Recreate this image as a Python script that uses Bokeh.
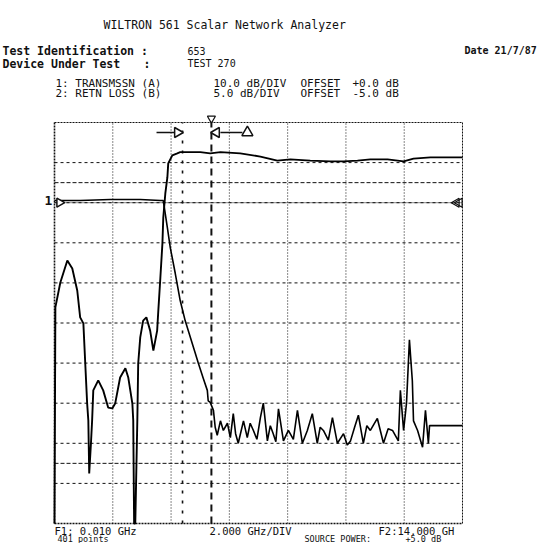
import numpy as np
from bokeh.plotting import figure
from bokeh.models import Range1d, Label
from bokeh.embed import file_html
from bokeh.resources import INLINE

# ---------------- data ----------------
FREQ_START_GHZ = 0.010
FREQ_STOP_GHZ = 14.000
N_XDIV = 7
CH1_TOP_DB, CH1_DB_PER_DIV = 20.0, 10.0   # TRANSMSSN (A)
CH2_TOP_DB, CH2_DB_PER_DIV = 10.0, 5.0    # RETN LOSS (B)
N_YDIV = 10
REF_LINE_DB = 0.0
LIMIT_UPPER_DB = 5.0
LIMIT_LOWER_DB = -65.0
CURSOR_REF_GHZ = 4.40
CURSOR_GHZ = 5.39

trans_freq = [0.01, 0.04, 0.21, 0.45, 0.62, 0.79, 0.89, 1.00, 1.06, 1.13,
              1.17, 1.20, 1.26, 1.30, 1.34, 1.51, 1.68, 1.85, 1.99, 2.09,
              2.26, 2.44, 2.54, 2.68, 2.71, 2.74, 2.78, 2.85, 2.88, 2.95,
              3.05, 3.16, 3.29, 3.40, 3.53, 3.57, 3.64, 3.71, 3.74, 3.81,
              3.88, 3.91, 4.05, 4.22, 4.32, 5.01, 5.35, 5.70, 6.38, 7.07,
              7.65, 8.10, 8.78, 9.47, 9.92, 10.40, 10.84, 11.43, 11.98, 12.32,
              12.90, 13.59, 14.00]
trans_db = [-80, -26.1, -19.9, -14.4, -16.4, -21.9, -28.6, -30.1, -39.4, -50.1,
            -54.3, -67.5, -60.0, -54.3, -46.8, -44.3, -46.8, -51.1, -51.3, -50.1,
            -43.6, -41.3, -43.6, -50.1, -54.3, -80, -80, -54.3, -40.1, -33.6,
            -29.4, -28.6, -31.9, -36.9, -31.9, -26.9, -18.7, -10.2, -3.7, 2.3,
            6.3, 9.8, 11.8, 12.3, 12.6, 12.6, 12.3, 12.6, 12.3, 11.5,
            10.5, 10.8, 10.5, 10.3, 10.3, 10.5, 10.8, 10.8, 10.3, 11.0,
            11.3, 11.3, 11.3]

retn_freq = [0.01, 0.89, 1.92, 2.95, 3.64, 3.74, 3.88, 3.98, 4.15, 4.32,
             4.49, 4.67, 4.84, 4.94, 5.11, 5.25, 5.28, 5.35, 5.46, 5.52,
             5.59, 5.70, 5.80, 5.94, 6.04, 6.14, 6.22, 6.31, 6.49, 6.62,
             6.72, 6.83, 6.95, 7.07, 7.17, 7.31, 7.41, 7.51, 7.60, 7.69,
             7.86, 8.03, 8.20, 8.34, 8.51, 8.68, 8.85, 9.02, 9.12, 9.23,
             9.40, 9.54, 9.71, 9.92, 10.05, 10.16, 10.30, 10.43, 10.60, 10.72,
             10.84, 11.08, 11.29, 11.45, 11.60, 11.80, 11.87, 11.98, 12.08, 12.18,
             12.28, 12.32, 12.46, 12.63, 12.73, 12.83, 12.87, 14.00]
retn_db = [0.27, 0.27, 0.4, 0.4, 0.27, 0.27, -3.1, -5.6, -8.8, -12.2,
           -14.7, -16.8, -18.8, -20.0, -21.9, -23.4, -24.7, -24.9, -25.9, -28.0,
           -29.0, -27.2, -28.4, -27.5, -29.3, -26.3, -28.8, -30.0, -27.2, -29.3,
           -27.5, -28.4, -29.5, -26.8, -25.0, -29.7, -27.8, -28.8, -29.8, -25.7,
           -29.7, -28.4, -29.5, -25.9, -30.0, -28.4, -26.3, -30.0, -28.0, -28.4,
           -29.6, -26.8, -30.0, -28.8, -30.2, -29.7, -28.0, -26.5, -30.0, -27.8,
           -28.4, -26.9, -30.0, -28.2, -28.4, -29.7, -23.4, -28.4, -25.0, -17.1,
           -22.2, -27.2, -28.4, -30.5, -25.9, -30.0, -27.8, -27.8]

header_title = "WILTRON 561 Scalar Network Analyzer"
test_id = "653"
device = "TEST 270"
date = "Date 21/7/87"
ch_rows = [("1: TRANSMSSN (A)", "10.0 dB/DIV", "OFFSET", "+0.0 dB"),
           ("2: RETN LOSS (B)", " 5.0 dB/DIV", "OFFSET", "-5.0 dB")]
bottom_left = "F1: 0.010 GHz"
bottom_mid = "2.000 GHz/DIV"
bottom_right = "F2:14.000 GH"
points_txt = "401 points"
power_txt = "SOURCE POWER:"
power_val = "+5.0 dB"

# ---------------- layout ----------------
W, H = 537, 543
GX0, GX1, GY0, GY1 = 54, 462, 122, 523   # graticule in canvas px
F1, F2 = FREQ_START_GHZ, FREQ_STOP_GHZ
sx = (GX1 - GX0) / (F2 - F1)
ch1_bot = CH1_TOP_DB - N_YDIV * CH1_DB_PER_DIV
ch2_bot = CH2_TOP_DB - N_YDIV * CH2_DB_PER_DIV
sy = (GY1 - GY0) / (CH1_TOP_DB - ch1_bot)
sy2 = (GY1 - GY0) / (CH2_TOP_DB - ch2_bot)
xr = Range1d(F1 - GX0 / sx, F2 + (W - GX1) / sx)
yr = Range1d(ch1_bot - (H - GY1) / sy, CH1_TOP_DB + GY0 / sy)

p = figure(width=W, height=H, x_range=xr, y_range=yr, output_backend="svg",
           toolbar_location=None, x_axis_type=None, y_axis_type=None,
           min_border=0, min_border_left=0, min_border_right=0,
           min_border_top=0, min_border_bottom=0)
p.extra_y_ranges = {"ch2": Range1d(ch2_bot - (H - GY1) / sy2, CH2_TOP_DB + GY0 / sy2)}
p.grid.visible = False
p.outline_line_color = None
p.background_fill_color = "white"
p.border_fill_color = "white"


def X(px):  # canvas px -> data x
    return xr.start + px / sx


def Y(py):  # canvas px -> data y (ch1)
    return yr.end - py / sy


INK = "#111111"
FONT = "DejaVu Sans Mono"

# graticule
vx = [F1 + i * (F2 - F1) / N_XDIV for i in range(N_XDIV + 1)]
hy = [CH1_TOP_DB - i * CH1_DB_PER_DIV for i in range(N_YDIV + 1)]
p.segment(x0=vx[1:-1], y0=[ch1_bot] * (N_XDIV - 1), x1=vx[1:-1], y1=[CH1_TOP_DB] * (N_XDIV - 1),
          line_color=INK, line_width=1, line_dash="1 2")
p.segment(x0=[F1] * (N_YDIV - 1), y0=hy[1:-1], x1=[F2] * (N_YDIV - 1), y1=hy[1:-1],
          line_color=INK, line_width=1, line_dash="3 3")
# outer frame
p.segment(x0=[F1, F2, F1, F1], y0=[ch1_bot, ch1_bot, CH1_TOP_DB, ch1_bot],
          x1=[F1, F2, F2, F2], y1=[CH1_TOP_DB, CH1_TOP_DB, CH1_TOP_DB, ch1_bot],
          line_color=INK, line_width=[1.6, 1, 1, 1.3], line_dash="2 1")
# limit lines & reference line
p.segment(x0=[F1, F1], y0=[LIMIT_UPPER_DB, LIMIT_LOWER_DB], x1=[F2, F2],
          y1=[LIMIT_UPPER_DB, LIMIT_LOWER_DB], line_color=INK, line_width=1, line_dash="4 2")
p.segment(x0=[F1], y0=[REF_LINE_DB], x1=[F2], y1=[REF_LINE_DB],
          line_color=INK, line_width=1, line_dash="1 1")
# cursors
p.segment(x0=[CURSOR_REF_GHZ], y0=[ch1_bot], x1=[CURSOR_REF_GHZ], y1=[CH1_TOP_DB],
          line_color=INK, line_width=1.6, line_dash="3 7")
p.segment(x0=[CURSOR_GHZ], y0=[ch1_bot], x1=[CURSOR_GHZ], y1=[CH1_TOP_DB],
          line_color=INK, line_width=2, line_dash="7 5")

# traces
p.line(trans_freq, trans_db, line_color="black", line_width=1.9)
p.line(retn_freq, retn_db, line_color="black", line_width=1.6, y_range_name="ch2")

# cursor symbols at the top
d = 1 / sx  # one pixel in GHz
mk_y = Y(132)
p.segment(x0=[CURSOR_REF_GHZ - 26 * d, CURSOR_GHZ + 9 * d], y0=[mk_y, mk_y],
          x1=[CURSOR_REF_GHZ - 8 * d, CURSOR_GHZ + 31 * d], y1=[mk_y, mk_y],
          line_color=INK, line_width=1.3)
p.scatter([CURSOR_REF_GHZ - 5 * d], [mk_y], marker="triangle", angle=-np.pi / 2, size=10,
          fill_color="white", line_color=INK, line_width=1.5)
p.scatter([CURSOR_GHZ + 5 * d], [mk_y], marker="triangle", angle=np.pi / 2, size=10,
          fill_color="white", line_color=INK, line_width=1.5)
p.scatter([CURSOR_GHZ + 36 * d], [mk_y], marker="triangle", size=11,
          fill_color="white", line_color=INK, line_width=1.5)
p.scatter([CURSOR_GHZ], [Y(118)], marker="inverted_triangle", size=8,
          fill_color="white", line_color=INK, line_width=1.2)
# reference position markers
p.scatter([F1 + 5 * d], [REF_LINE_DB], marker="triangle", angle=-np.pi / 2, size=9,
          fill_color="white", line_color=INK, line_width=1.5)
p.scatter([F2 - 6 * d, F2 - 3 * d], [REF_LINE_DB, REF_LINE_DB], marker="triangle",
          angle=np.pi / 2, size=9, fill_color=None, line_color=INK, line_width=1.2)


def txt(px, py, s, size, bold=False):
    p.add_layout(Label(x=X(px), y=Y(py), text=s, text_font=FONT,
                       text_font_size=f"{size}px",
                       text_font_style="bold" if bold else "normal",
                       text_align="left", text_baseline="middle", text_color=INK))


txt(44, 200, "1", 13, True)
txt(103, 24, header_title, 11.5)
txt(2, 50, "Test Identification :", 11.5, True)
txt(187, 50, test_id, 10)
txt(464, 50, date, 10, True)
txt(2, 63, "Device Under Test", 11.5, True)
txt(143, 63, ":", 11.5, True)
txt(187, 63, device, 10)
for i, (a, b, c, e) in enumerate(ch_rows):
    yy = 83 + 10 * i
    txt(55, yy, a, 11)
    txt(213, yy, b, 11)
    txt(300, yy, c, 11)
    txt(352, yy, e, 11)
txt(54, 530.5, bottom_left, 10.5)
txt(209, 530.5, bottom_mid, 10.5)
txt(378, 530.5, bottom_right, 10.5)
txt(57, 538, points_txt, 8.5)
txt(304, 538, power_txt, 8.5)
txt(405, 538, power_val, 8.5)

open("out.html", "w").write(file_html(p, INLINE))
